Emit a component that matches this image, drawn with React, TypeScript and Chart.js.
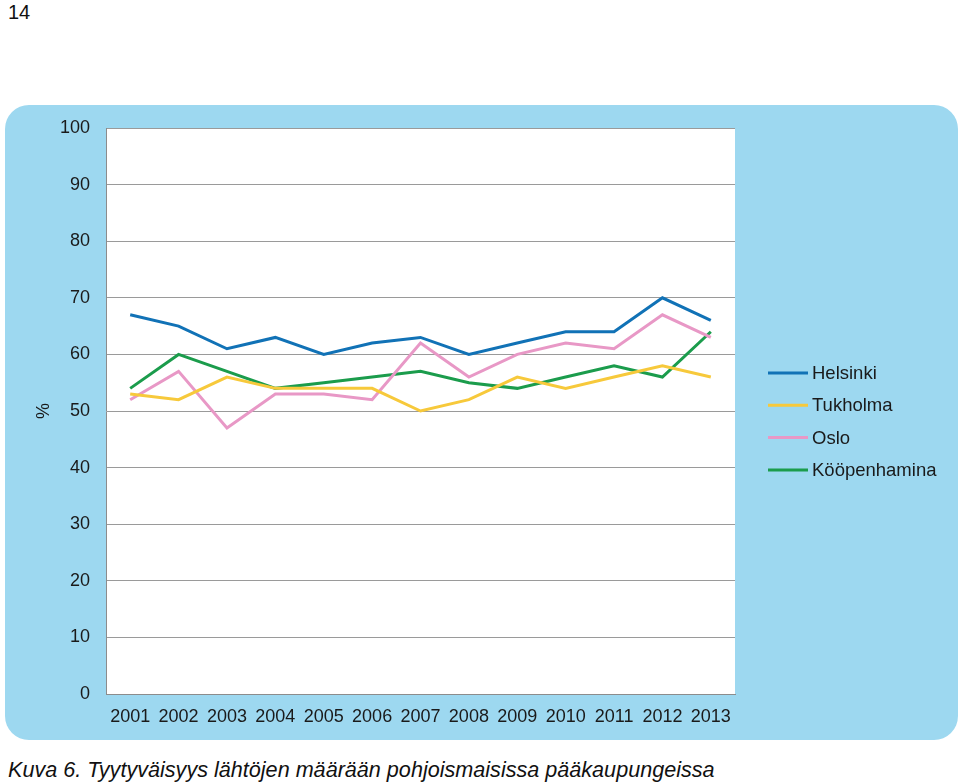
import React, { useEffect, useRef } from "react";
import { Chart, registerables } from "chart.js";

Chart.register(...registerables);

const years = ["2001", "2002", "2003", "2004", "2005", "2006", "2007", "2008", "2009", "2010", "2011", "2012", "2013"];
const helsinki = [67, 65, 61, 63, 60, 62, 63, 60, 62, 64, 64, 70, 66];
const tukholma = [53, 52, 56, 54, 54, 54, 50, 52, 56, 54, 56, 58, 56];
const oslo = [52, 57, 47, 53, 53, 52, 62, 56, 60, 62, 61, 67, 63];
const kopenhamina = [54, 60, 57, 54, 55, 56, 57, 55, 54, 56, 58, 56, 64];
const seriesNames = ["Helsinki", "Tukholma", "Oslo", "Kööpenhamina"];
const seriesColors = ["#1172b6", "#f7c93b", "#e898c6", "#1b9c4c"];
const yMin = 0;
const yMax = 100;
const yStep = 10;
const yTitle = "%";
const pageNumber = "14";
const caption = "Kuva 6. Tyytyväisyys lähtöjen määrään pohjoismaisissa pääkaupungeissa";

const FONT = "'Liberation Sans', Arial, sans-serif";

const plotBgPlugin = {
  id: "plotBg",
  beforeDraw(chart: any) {
    const { ctx, chartArea } = chart;
    ctx.save();
    ctx.fillStyle = "#ffffff";
    ctx.fillRect(chartArea.left, chartArea.top, chartArea.right - chartArea.left, chartArea.bottom - chartArea.top);
    ctx.restore();
  },
};

const legendPlugin = {
  id: "customLegend",
  afterDraw(chart: any) {
    const { ctx, chartArea } = chart;
    const x0 = chartArea.right + 33;
    const lineLen = 40;
    const spacing = 32.3;
    const startY = chartArea.top + 245;
    ctx.save();
    ctx.font = `18.5px ${FONT}`;
    ctx.textBaseline = "middle";
    ctx.textAlign = "left";
    chart.data.datasets.forEach((ds: any, i: number) => {
      const y = startY + i * spacing;
      ctx.strokeStyle = ds.borderColor;
      ctx.lineWidth = 3;
      ctx.beginPath();
      ctx.moveTo(x0, y);
      ctx.lineTo(x0 + lineLen, y);
      ctx.stroke();
      ctx.fillStyle = "#1a1a1a";
      ctx.fillText(ds.label, x0 + lineLen + 4, y + 1);
    });
    ctx.restore();
  },
};

function LineChart() {
  const ref = useRef<HTMLCanvasElement | null>(null);
  useEffect(() => {
    if (!ref.current) return;
    const data = [helsinki, tukholma, oslo, kopenhamina];
    const chart = new Chart(ref.current, {
      type: "line",
      data: {
        labels: years,
        datasets: data.map((d, i) => ({
          label: seriesNames[i],
          data: d,
          borderColor: seriesColors[i],
          backgroundColor: seriesColors[i],
          borderWidth: 3,
          pointRadius: 0,
          tension: 0,
          fill: false,
        })),
      },
      options: {
        animation: false,
        responsive: false,
        maintainAspectRatio: false,
        layout: { autoPadding: false, padding: { left: 0, right: 223, top: 23, bottom: 0 } },
        plugins: {
          legend: { display: false },
          tooltip: { enabled: false },
        },
        scales: {
          x: {
            offset: true,
            grid: { display: false, drawTicks: false },
            border: { display: true, color: "#8c8c8c", width: 1 },
            ticks: {
              color: "#1a1a1a",
              font: { family: FONT, size: 18 },
              padding: 12,
              maxRotation: 0,
              autoSkip: false,
            },
            afterFit(scale: any) {
              scale.height = 46;
              scale.paddingLeft = 0;
              scale.paddingRight = 0;
            },
          },
          y: {
            min: yMin,
            max: yMax,
            ticks: {
              stepSize: yStep,
              color: "#1a1a1a",
              font: { family: FONT, size: 18 },
              padding: 16,
            },
            grid: { color: "#9a9a9a", lineWidth: 1, drawTicks: false },
            border: { display: true, color: "#8c8c8c", width: 1 },
            title: {
              display: true,
              text: yTitle,
              color: "#1a1a1a",
              font: { family: FONT, size: 18 },
              padding: { top: 28, bottom: 0 },
            },
            afterFit(scale: any) {
              scale.width = 101;
              scale.paddingTop = 0;
              scale.paddingBottom = 0;
            },
          },
        },
      },
      plugins: [plotBgPlugin, legendPlugin],
    });
    return () => chart.destroy();
  }, []);
  return <canvas ref={ref} width={953} height={635} style={{ position: "absolute", left: 5, top: 105, width: 953, height: 635 }} />;
}

export default function App() {
  return (
    <div style={{ position: "absolute", left: 0, top: 0, width: 960, height: 784, background: "#ffffff", overflow: "hidden", fontFamily: FONT }}>
      <div style={{ position: "absolute", left: 8, top: 0, fontSize: 20, color: "#111", lineHeight: "24px" }}>{pageNumber}</div>
      <div style={{ position: "absolute", left: 5, top: 105, width: 953, height: 635, background: "#9dd8f0", borderRadius: 24 }} />
      <LineChart />
      <div style={{ position: "absolute", left: 8, top: 757, fontSize: 21.6, fontStyle: "italic", color: "#111", lineHeight: "26px", whiteSpace: "nowrap" }}>{caption}</div>
    </div>
  );
}
